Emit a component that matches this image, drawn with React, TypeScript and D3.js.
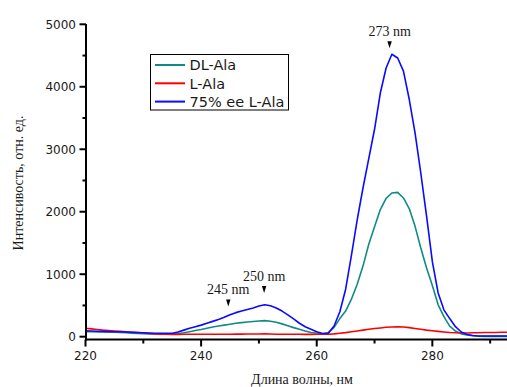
import React from "react";
import * as d3 from "d3";

const wavelengths: number[] = d3.range(220, 294);

const dlAla: number[] = [
  80, 78, 76, 74, 72, 70, 68, 62, 56, 50,
  46, 43, 42, 42, 43, 44, 52, 62, 80, 100,
  115, 135, 155, 170, 185, 200, 215, 225, 235, 243,
  252, 257, 248, 230, 205, 175, 145, 118, 90, 68,
  58, 45, 65, 150, 290, 410, 600, 840, 1130, 1480,
  1760, 2034, 2215, 2300, 2310, 2220, 2050, 1770, 1420, 1100,
  820, 510, 320, 170, 90, 45, 27, 15, 8, 5,
  5, 5, 5, 5,
];

const lAla: number[] = [
  135, 125, 115, 105, 98, 92, 85, 78, 72, 66,
  60, 52, 45, 40, 38, 37, 37, 38, 38, 38,
  38, 39, 39, 40, 40, 40, 41, 41, 42, 42,
  43, 45, 42, 40, 39, 38, 38, 38, 37, 37,
  38, 38, 40, 45, 55, 65, 78, 92, 105, 118,
  130, 140, 150, 155, 158, 155, 145, 132, 118, 105,
  95, 85, 76, 68, 63, 60, 60, 62, 64, 66,
  68, 68, 70, 70,
];

const ee75: number[] = [
  96, 92, 88, 85, 82, 80, 78, 75, 72, 68,
  64, 60, 56, 55, 55, 55, 75, 105, 135, 160,
  185, 215, 245, 275, 310, 350, 385, 410, 435, 460,
  490, 510, 495, 460, 410, 350, 285, 215, 160, 120,
  80, 50, 55, 170, 400, 760, 1300, 1870, 2380, 2850,
  3320, 3900, 4300, 4520, 4460, 4250, 3800, 3265, 2620, 1930,
  1200, 700, 430, 290, 160, 75, 35, 18, 12, 10,
  10, 10, 10, 10,
];

const seriesNames: string[] = ["DL-Ala", "L-Ala", "75% ee L-Ala"];
const seriesColors: string[] = ["#128a84", "#ff0000", "#0a0aff"];
const seriesData: number[][] = [dlAla, lAla, ee75];

const xMajorTicks: number[] = [220, 240, 260, 280];
const xMinorTicks: number[] = [230, 250, 270, 290];
const yMajorTicks: number[] = [0, 1000, 2000, 3000, 4000, 5000];
const yMinorTicks: number[] = [500, 1500, 2500, 3500, 4500];

const peakLabels: string[] = ["245 nm", "250 nm", "273 nm"];
const peakX: number[] = [244.7, 250.9, 272.6];
const peakTipValue: number[] = [485, 700, 4615];

export default function App() {
  const W = 507;
  const H = 387;
  const x = d3.scaleLinear().domain([220, 293]).range([85.5, 507.5]);
  const y = d3.scaleLinear().domain([-45, 5000]).range([339.5, 24.3]);

  const line = d3
    .line<number>()
    .x((_, i) => x(wavelengths[i]))
    .y((d) => y(d))
    .curve(d3.curveLinear);

  const axisY = y(-45);
  const tickColor = "#000";
  const labelFont = "DejaVu Sans, Verdana, sans-serif";
  const serif = "Liberation Serif, Times New Roman, serif";

  return (
    <svg
      width={W}
      height={H}
      style={{ position: "absolute", left: 0, top: 0, background: "#fff" }}
    >
      <rect x={0} y={0} width={W} height={H} fill="#fff" />
      {seriesData.map((d, i) => (
        <path
          key={seriesNames[i]}
          d={line(d) || ""}
          fill="none"
          stroke={seriesColors[i]}
          strokeWidth={1.6}
          strokeLinejoin="round"
        />
      ))}

      <line x1={86} x2={W} y1={axisY} y2={axisY} stroke={tickColor} strokeWidth={2} />
      <line x1={86} x2={86} y1={24} y2={axisY + 1} stroke={tickColor} strokeWidth={2} />

      {xMajorTicks.map((t) => (
        <g key={"xM" + t}>
          <line x1={x(t)} x2={x(t)} y1={axisY} y2={axisY + 7} stroke={tickColor} strokeWidth={2} />
          <text
            x={x(t)}
            y={360}
            textAnchor="middle"
            fontFamily={labelFont}
            fontSize={12}
            fill="#1a1a1a"
          >
            {t}
          </text>
        </g>
      ))}
      {xMinorTicks.map((t) => (
        <line key={"xm" + t} x1={x(t)} x2={x(t)} y1={axisY} y2={axisY + 4} stroke={tickColor} strokeWidth={2} />
      ))}

      {yMajorTicks.map((t) => (
        <g key={"yM" + t}>
          <line x1={79.5} x2={86} y1={y(t)} y2={y(t)} stroke={tickColor} strokeWidth={2} />
          <text
            x={76}
            y={y(t)}
            dy="0.36em"
            textAnchor="end"
            fontFamily={labelFont}
            fontSize={12}
            fill="#1a1a1a"
          >
            {t}
          </text>
        </g>
      ))}
      {yMinorTicks.map((t) => (
        <line key={"ym" + t} x1={82.5} x2={86} y1={y(t)} y2={y(t)} stroke={tickColor} strokeWidth={2} />
      ))}

      <text
        x={302}
        y={384}
        textAnchor="middle"
        fontFamily={serif}
        fontSize={14}
        fill="#1a1a1a"
      >
        Длина волны, нм
      </text>
      <text
        transform="translate(23,183) rotate(-90)"
        textAnchor="middle"
        fontFamily={serif}
        fontSize={14}
        fill="#1a1a1a"
      >
        Интенсивость, отн. ед.
      </text>

      {peakLabels.map((lab, i) => {
        const px = x(peakX[i]);
        const tip = y(peakTipValue[i]);
        return (
          <g key={lab}>
            <path
              d={`M${px - 2.2},${tip - 7} L${px + 2.2},${tip - 7} L${px},${tip} Z`}
              fill="#000"
            />
            <text
              x={px}
              y={tip - 12}
              textAnchor="middle"
              fontFamily={serif}
              fontSize={14}
              fill="#1a1a1a"
            >
              {lab}
            </text>
          </g>
        );
      })}

      <rect x={150.5} y={54.5} width={138} height={55.5} fill="#fff" stroke="#000" strokeWidth={1} />
      {seriesNames.map((n, i) => (
        <g key={"lg" + n}>
          <line
            x1={155}
            x2={185}
            y1={65 + i * 18.3}
            y2={65 + i * 18.3}
            stroke={seriesColors[i]}
            strokeWidth={2}
          />
          <text
            x={189.5}
            y={65 + i * 18.3}
            dy="0.36em"
            fontFamily={labelFont}
            fontSize={14.5}
            fill="#1a1a1a"
          >
            {n}
          </text>
        </g>
      ))}
    </svg>
  );
}
